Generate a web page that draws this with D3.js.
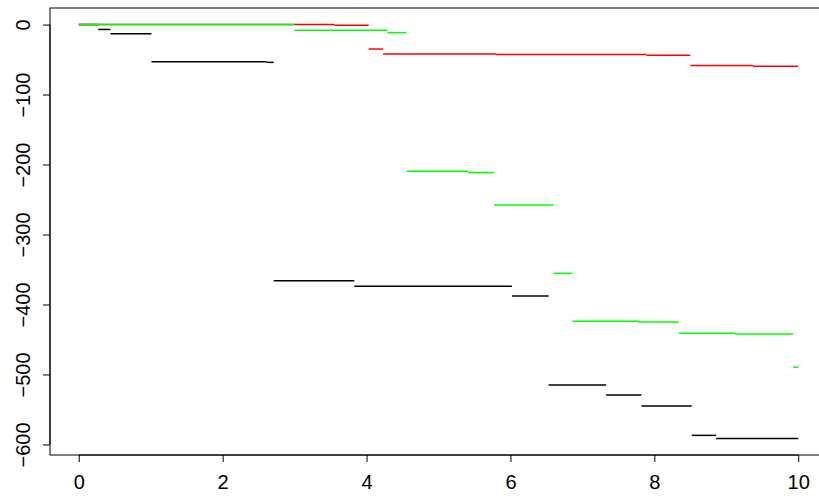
<!DOCTYPE html>
<html>
<head>
<meta charset="utf-8">
<script src="https://cdn.jsdelivr.net/npm/d3@7"></script>
<style>
  html, body { margin: 0; padding: 0; background: #fff; }
  svg { display: block; }
  text { font-family: "Liberation Sans", Arial, Helvetica, sans-serif; }
</style>
</head>
<body>
<svg id="chart" width="819" height="498"></svg>
<script>
// Step series: start x of each step and its value; each step ends at the next start (last ends at xEnd)
const xEnd = 10;
const blackStart = [0, 0.27, 0.44, 1.01, 2.61, 2.71, 3.83, 6.02, 6.53, 7.33, 7.82, 8.52, 8.86];
const blackValue = [0, -7, -13, -53, -54, -366, -374, -388, -515, -529.5, -545, -587, -591.4];

const redStart = [0, 3.55, 4.03, 4.23, 5.80, 7.89, 8.50, 9.37];
const redValue = [0, -1, -35, -42.2, -42.8, -44, -58.6, -59.6];

const greenStart = [0, 3.00, 4.29, 4.555, 5.41, 5.77, 6.60, 6.86, 7.77, 8.34, 9.12, 9.93];
const greenValue = [0, -8, -11.5, -209.5, -211.5, -258, -355.5, -424, -425, -441, -442, -489.5];

const xTicks = [0, 2, 4, 6, 8, 10];
const yTicks = [0, -100, -200, -300, -400, -500, -600];

const seriesList = [
  { name: "black", color: "#000000", start: blackStart, value: blackValue },
  { name: "red", color: "#ff0000", start: redStart, value: redValue },
  { name: "green", color: "#00ff00", start: greenStart, value: greenValue }
];

const svg = d3.select("#chart");
const mLeft = 50, mRight = 827, mTop = 8, mBottom = 455;

// R-style 4% range expansion
const allX = [0, xEnd];
const allY = [...blackValue, ...redValue, ...greenValue];
const xMin = d3.min(allX), xMax = d3.max(allX);
const yMin = d3.min(allY), yMax = d3.max(allY);
const xPad = (xMax - xMin) * 0.04, yPad = (yMax - yMin) * 0.04;

const x = d3.scaleLinear().domain([xMin - xPad, xMax + xPad]).range([mLeft, mRight]);
const y = d3.scaleLinear().domain([yMin - yPad, yMax + yPad]).range([mBottom, mTop]);

// segments
seriesList.forEach(s => {
  const segs = s.start.map((x0, i) => ({
    x0: x0,
    x1: i + 1 < s.start.length ? s.start[i + 1] : xEnd,
    v: s.value[i]
  }));
  svg.append("g").attr("class", "series-" + s.name)
    .selectAll("line").data(segs).join("line")
    .attr("x1", d => x(d.x0)).attr("x2", d => x(d.x1))
    .attr("y1", d => y(d.v)).attr("y2", d => y(d.v))
    .attr("stroke", s.color).attr("stroke-width", 1.5);
});

// box
svg.append("rect")
  .attr("x", mLeft).attr("y", mTop)
  .attr("width", mRight - mLeft).attr("height", mBottom - mTop)
  .attr("fill", "none").attr("stroke", "#000").attr("stroke-width", 1);

// x axis
const xAxis = svg.append("g").attr("transform", `translate(0,${mBottom})`)
  .call(d3.axisBottom(x).tickValues(xTicks).tickSize(7).tickPadding(13).tickFormat(d3.format("d")));
xAxis.select(".domain").attr("d", `M${x(xTicks[0])},0H${x(xTicks[xTicks.length-1])}`).attr("stroke", "#000");
xAxis.selectAll("line").attr("stroke", "#000");
xAxis.selectAll("text").attr("font-size", 20).attr("fill", "#000")
  .style("font-family", '"Liberation Sans", Arial, sans-serif');

// y axis
const yAxis = svg.append("g").attr("transform", `translate(${mLeft},0)`)
  .call(d3.axisLeft(y).tickValues(yTicks).tickSize(7).tickFormat(d3.format("d")));
yAxis.select(".domain").attr("d", `M0,${y(yTicks[0])}V${y(yTicks[yTicks.length-1])}`).attr("stroke", "#000");
yAxis.selectAll("line").attr("stroke", "#000");
yAxis.selectAll("text")
  .attr("font-size", 20).attr("fill", "#000")
  .style("font-family", '"Liberation Sans", Arial, sans-serif')
  .attr("text-anchor", "middle")
  .attr("transform", "rotate(-90)")
  .attr("x", 0).attr("y", -20).attr("dy", null);
</script>
</body>
</html>
